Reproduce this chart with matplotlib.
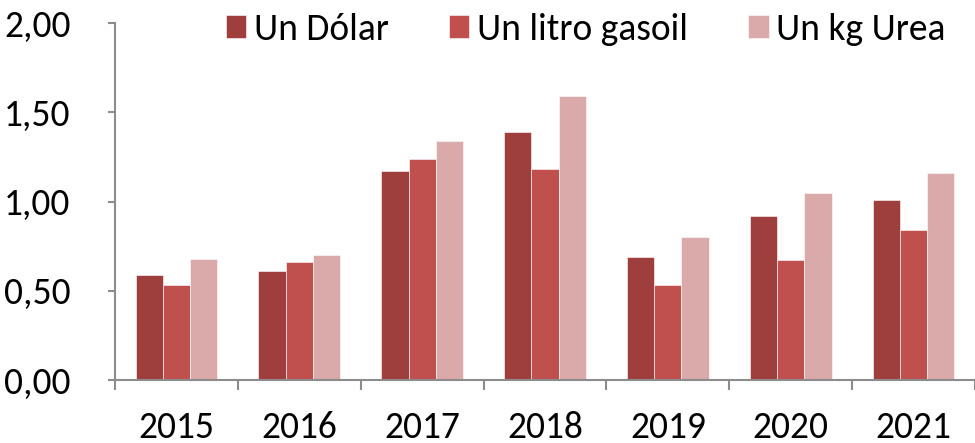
import numpy as np
import matplotlib.pyplot as plt
from matplotlib.ticker import FixedLocator, FuncFormatter

years = ['2015', '2016', '2017', '2018', '2019', '2020', '2021']
dolar = [0.59, 0.61, 1.17, 1.39, 0.69, 0.92, 1.01]
gasoil = [0.53, 0.66, 1.24, 1.18, 0.53, 0.67, 0.84]
urea = [0.68, 0.70, 1.34, 1.59, 0.80, 1.05, 1.16]
series_names = ['Un Dólar', 'Un litro gasoil', 'Un kg Urea']
colors = ['#9E3F3E', '#C0504D', '#DAA9A9']

plt.rcParams['font.family'] = ['Carlito', 'DejaVu Sans']
plt.rcParams['font.size'] = 27

fig = plt.figure(figsize=(9.75, 4.43), dpi=100)
ax = fig.add_axes([115 / 975, 1 - 380 / 443, 1 - 115 / 975, (380 - 23) / 443])

x = np.arange(len(years))
w = 0.222
for i, (vals, name, c) in enumerate(zip([dolar, gasoil, urea], series_names, colors)):
    ax.bar(x + (i - 1) * w, vals, w, color=c, label=name, edgecolor='white', linewidth=0.4)

ax.set_xlim(-0.5, len(years) - 0.5)
ax.set_ylim(0, 2)
ax.set_yticks([0, 0.5, 1.0, 1.5, 2.0])
ax.yaxis.set_major_formatter(FuncFormatter(lambda v, p: ('%.2f' % v).replace('.', ',')))
ax.set_xticks(x)
ax.set_xticklabels(years)
ax.xaxis.set_minor_locator(FixedLocator(np.arange(-0.5, len(years), 1)))

for s in ['top', 'right']:
    ax.spines[s].set_visible(False)
for s in ['left', 'bottom']:
    ax.spines[s].set_color('#8C8C8C')
    ax.spines[s].set_linewidth(1.5)

ax.tick_params(axis='y', direction='out', length=5, width=1.5, color='#8C8C8C', pad=27)
ax.tick_params(axis='x', which='major', length=0, pad=22)
ax.tick_params(axis='x', which='minor', direction='out', length=7, width=1.5, color='#8C8C8C')

ax.legend(loc='upper right', bbox_to_anchor=(0.983, 1.07), ncol=3, frameon=False,
          handlelength=0.55, handleheight=0.55, handletextpad=0.2, columnspacing=1.6,
          borderaxespad=0, fontsize=27)

plt.savefig('out.png', dpi=100)
